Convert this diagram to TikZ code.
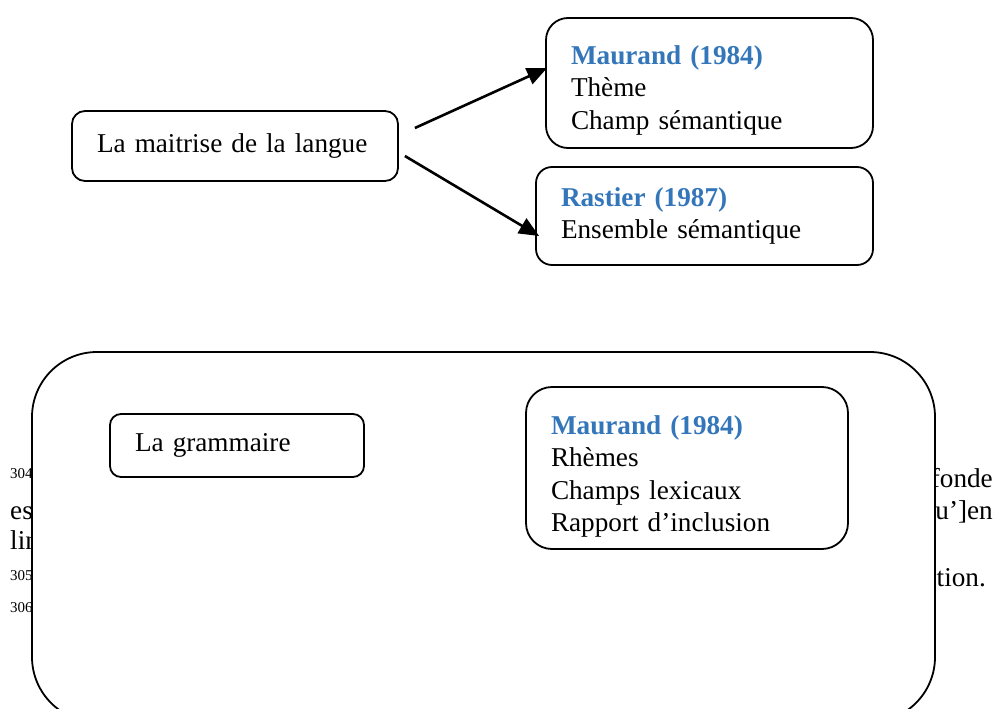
\documentclass[tikz,border=0pt]{standalone}
\usepackage{fontspec}
\setmainfont[WordSpace=0.8]{Liberation Serif}
\usetikzlibrary{arrows.meta}
\definecolor{titrebleu}{RGB}{52,118,186}
\newcommand{\titre}[1]{\textcolor{titrebleu}{\textbf{#1}}}

\begin{document}
\begin{tikzpicture}[x=1pt,y=-1pt,
  boite/.style={draw,line width=1.8pt,fill=white,align=left,inner xsep=25pt,inner ysep=0pt,
    font=\fontsize{27.2}{32.5}\selectfont},
  fleche/.style={line width=2.6pt,-{Triangle[length=20pt,width=17pt]}},
  fond/.style={inner sep=0pt,anchor=west,font=\fontsize{27.2}{32}\selectfont},
  note/.style={inner sep=0pt,anchor=west,font=\fontsize{15}{18}\selectfont}]
\useasboundingbox (0,0) rectangle (996,709);
\clip (0,0) rectangle (996,709);

% texte de la page, en partie cache
\node[note] (n304) at (10,474) {304};
\node[fond] (es) at (10,513) {es};
\node[fond] (lin) at (10,540) {lin};
\node[note] (n305) at (10,576) {305};
\node[note] (n306) at (10,608) {306};
\node[fond,anchor=east] (fonde) at (993,478) {fonde};
\node[fond,anchor=east] (quen) at (993,513) {qu’]en};
\node[fond,anchor=east] (tion) at (986,578) {tion.};

% haut
\node[boite,rounded corners=13pt,text width=276pt,minimum height=70pt] (maitrise) at (235,146)
  {La maitrise de la langue};
\node[boite,rounded corners=22pt,text width=277pt,minimum height=130pt] (maurandA) at (709.5,83)
  {\rule{0pt}{33pt}\titre{Maurand (1984)}\\Thème\\Champ sémantique};
\node[boite,rounded corners=16pt,text width=287pt,minimum height=98pt] (rastier) at (704.5,216)
  {\titre{Rastier (1987)}\\Ensemble sémantique};
\draw[fleche] ([xshift=16pt,yshift=18pt]maitrise.east) -- ([xshift=2pt,yshift=15pt]maurandA.west);
\draw[fleche] ([xshift=6pt,yshift=-10pt]maitrise.east) -- ([xshift=4pt,yshift=-20pt]rastier.west);

% bas
\node[boite,rounded corners=65pt,minimum width=903pt,minimum height=370pt] (cadre) at (483.5,537) {};
\node[boite,rounded corners=11pt,text width=204pt,minimum height=63pt] (grammaire) at (237,445.5)
  {La grammaire};
\node[boite,rounded corners=26pt,text width=272pt,minimum height=162pt] (maurandB) at (687,468)
  {\rule{0pt}{36pt}\titre{Maurand (1984)}\\Rhèmes\\Champs lexicaux\\Rapport d’inclusion};
\end{tikzpicture}
\end{document}
